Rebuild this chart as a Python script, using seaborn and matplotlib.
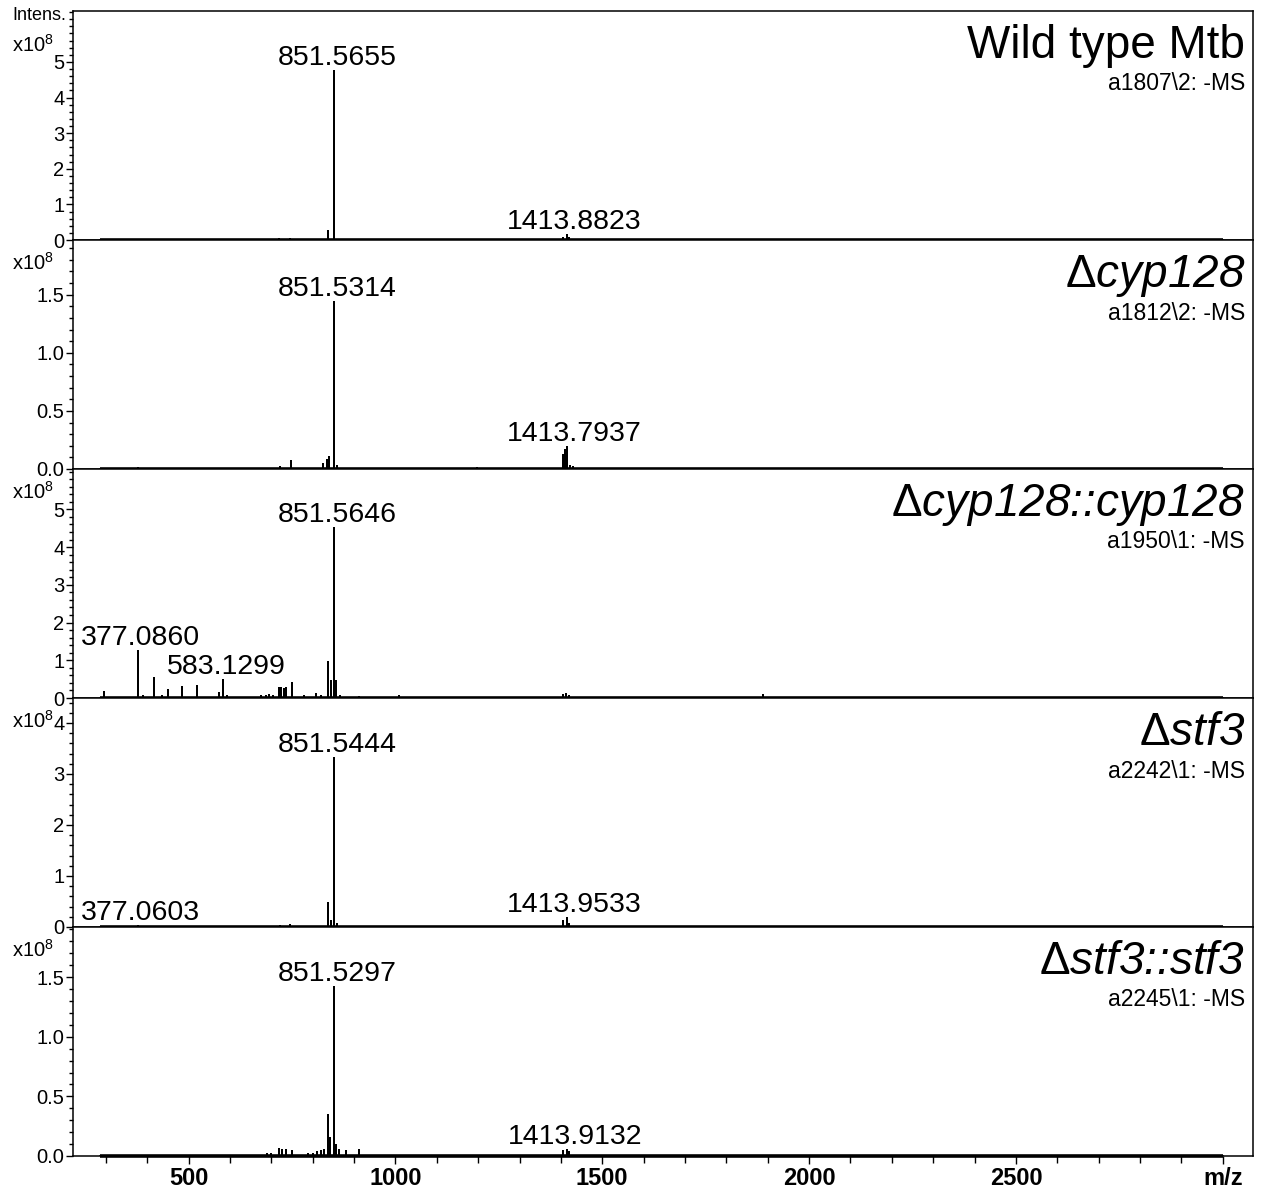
#!/usr/bin/env python3
# -*- coding: utf-8 -*-

import matplotlib as mpl
import matplotlib.pyplot as plt
import matplotlib.ticker as mticker
from matplotlib import font_manager
import seaborn as sns
import pandas as pd

mpl.use("Agg")

sns.set_style("ticks")
plt.rcParams["font.family"] = ["Liberation Sans", "DejaVu Sans"]
plt.rcParams["mathtext.fontset"] = "custom"
plt.rcParams["mathtext.rm"] = "Liberation Sans"
plt.rcParams["mathtext.it"] = "Liberation Sans:italic"
plt.rcParams["mathtext.bf"] = "Liberation Sans:bold"
for key in ["text.color", "axes.labelcolor", "xtick.color", "ytick.color", "axes.edgecolor"]:
    plt.rcParams[key] = "black"

installed = {f.name for f in font_manager.fontManager.ttflist}
XFONT = "Liberation Sans Narrow" if "Liberation Sans Narrow" in installed else "Liberation Sans"

# ---- data (intensity in units of 1e8) ----
wt_mz = [718, 745, 837, 851.5655, 1405, 1413.8823, 1420]
wt_int = [0.03, 0.04, 0.25, 4.75, 0.06, 0.13, 0.05]

cyp_mz = [377, 720, 748, 826, 835, 840, 851.5314, 860, 1197, 1405, 1410, 1413.7937, 1422, 1430]
cyp_int = [0.01, 0.02, 0.07, 0.04, 0.08, 0.10, 1.44, 0.03, 0.01, 0.12, 0.16, 0.19, 0.03, 0.02]

comp_mz = [296, 377.0860, 391, 417, 436, 451, 485, 521, 574, 583.1299, 594, 675,
           687, 694, 704, 718, 723, 730, 735, 749, 779, 808, 820, 837, 845,
           851.5646, 856, 867, 913, 1008, 1405, 1413, 1420, 1888]
comp_int = [0.15, 1.25, 0.06, 0.52, 0.06, 0.20, 0.28, 0.33, 0.14, 0.48, 0.05, 0.05,
            0.06, 0.08, 0.05, 0.26, 0.27, 0.24, 0.26, 0.40, 0.05, 0.10, 0.05, 0.95, 0.44,
            4.50, 0.46, 0.06, 0.03, 0.05, 0.08, 0.10, 0.05, 0.08]

stf_mz = [377.0603, 720, 745, 837, 845, 851.5444, 860, 1405, 1413.9533, 1420]
stf_int = [0.02, 0.02, 0.04, 0.47, 0.12, 3.31, 0.05, 0.12, 0.18, 0.05]

stfc_mz = [690, 700, 719, 726, 735, 749, 788, 800, 810, 820, 828, 837, 842,
           851.5297, 856, 864, 880, 912, 1405, 1413.9132, 1420]
stfc_int = [0.02, 0.02, 0.06, 0.05, 0.05, 0.04, 0.02, 0.02, 0.03, 0.04, 0.05, 0.34, 0.15,
            1.42, 0.09, 0.05, 0.04, 0.05, 0.04, 0.05, 0.03]

titles = ["Wild type Mtb", r"$\Delta$cyp128", r"$\Delta$cyp128::cyp128",
          r"$\Delta$stf3", r"$\Delta$stf3::stf3"]
title_italic = [False, True, True, True, True]
runs = ["a1807\\2: -MS", "a1812\\2: -MS", "a1950\\1: -MS", "a2242\\1: -MS", "a2245\\1: -MS"]

labelled = [
    [851.5655, 1413.8823],
    [851.5314, 1413.7937],
    [377.0860, 583.1299, 851.5646],
    [377.0603, 851.5444, 1413.9533],
    [851.5297, 1413.9132],
]

spectra = [(wt_mz, wt_int), (cyp_mz, cyp_int), (comp_mz, comp_int),
           (stf_mz, stf_int), (stfc_mz, stfc_int)]

y_top = [6.43, 1.97, 6.07, 4.49, 1.92]
y_ticks = [[0, 1, 2, 3, 4, 5], [0.0, 0.5, 1.0, 1.5], [0, 1, 2, 3, 4, 5],
           [0, 1, 2, 3, 4], [0.0, 0.5, 1.0, 1.5]]
y_minor = [0.2, 0.1, 0.2, 0.2, 0.1]
y_fmt = ["%d", "%.1f", "%d", "%d", "%.1f"]

x_ticks = [500, 1000, 1500, 2000, 2500, 3000]
x_ticklabels = ["500", "1000", "1500", "2000", "2500", "m/z"]
MZ_START, MZ_END = 285, 3000

W, H = 1270, 1188
fig, axes = plt.subplots(5, 1, figsize=(W / 100, H / 100), dpi=100, sharex=True,
                         gridspec_kw=dict(hspace=0))
fig.subplots_adjust(left=72.7 / W, right=1253 / W, top=1 - 11 / H, bottom=1 - 1156 / H)


def profile(mz, inten):
    xs, ys = [MZ_START], [0.0]
    for m, h in sorted(zip(mz, inten)):
        xs += [m, m, m]
        ys += [0.0, h, 0.0]
    xs.append(MZ_END)
    ys.append(0.0)
    return pd.DataFrame({"mz": xs, "intens": ys})


for i, ax in enumerate(axes):
    mz, inten = spectra[i]
    df = profile(mz, inten)
    sns.lineplot(data=df, x="mz", y="intens", sort=False, estimator=None,
                 color="black", linewidth=1.4, ax=ax)
    ax.hlines(0, MZ_START, MZ_END, color="black", linewidth=2.6, clip_on=False, zorder=5)

    ax.set_xlim(220, 3073)
    ax.set_ylim(0, y_top[i])
    ax.set_xlabel("")
    ax.set_ylabel("")

    for s in ax.spines.values():
        s.set_visible(True)
        s.set_linewidth(1.1)
        s.set_color("black")

    ax.yaxis.set_major_locator(mticker.FixedLocator(y_ticks[i]))
    ax.yaxis.set_minor_locator(mticker.MultipleLocator(y_minor[i]))
    ax.yaxis.set_major_formatter(mticker.FormatStrFormatter(y_fmt[i]))
    ax.tick_params(axis="y", which="major", direction="out", length=5, width=1,
                   labelsize=14.5, pad=1)
    ax.tick_params(axis="y", which="minor", direction="out", length=3, width=1)

    # peak labels
    for m in labelled[i]:
        h = inten[mz.index(m)]
        dx = 8 if m > 1400 else 3
        ax.annotate(f"{m:.4f}", xy=(m, h), xytext=(dx, 6), textcoords="offset pixels",
                    ha="center", va="baseline", fontsize=20.5)

    # sample name and run id
    if title_italic[i]:
        ax.text(0.9932, 0.945, titles[i], transform=ax.transAxes, ha="right", va="top",
                fontsize=33, style="italic")
    else:
        ax.text(0.9932, 0.945, titles[i], transform=ax.transAxes, ha="right", va="top",
                fontsize=33)
    ax.text(0.9932, 1 - 73 / 229, runs[i], transform=ax.transAxes, ha="right",
            va="center", fontsize=16.5)

    # intensity scale label
    top_px = ax.get_position().y1 * H
    off = 34 if i == 0 else 23
    fig.text(12 / W, (top_px - off) / H, r"x10$^{8}$", ha="left", va="center", fontsize=14.5)

for ax in axes[:-1]:
    ax.tick_params(axis="x", which="both", bottom=False, labelbottom=False)

bx = axes[-1]
bx.xaxis.set_major_locator(mticker.FixedLocator(x_ticks))
bx.xaxis.set_major_formatter(mticker.FixedFormatter(x_ticklabels))
bx.xaxis.set_minor_locator(mticker.MultipleLocator(100))
bx.tick_params(axis="x", which="major", direction="out", length=6, width=1, pad=2)
bx.tick_params(axis="x", which="minor", direction="out", length=5, width=1)
for lab in bx.get_xticklabels():
    lab.set_fontfamily(XFONT)
    lab.set_fontweight("bold")
    lab.set_fontsize(17)

fig.text(12 / W, 1 - 15 / H, "Intens.", ha="left", va="center", fontsize=13)

fig.savefig("out.png", dpi=100)
